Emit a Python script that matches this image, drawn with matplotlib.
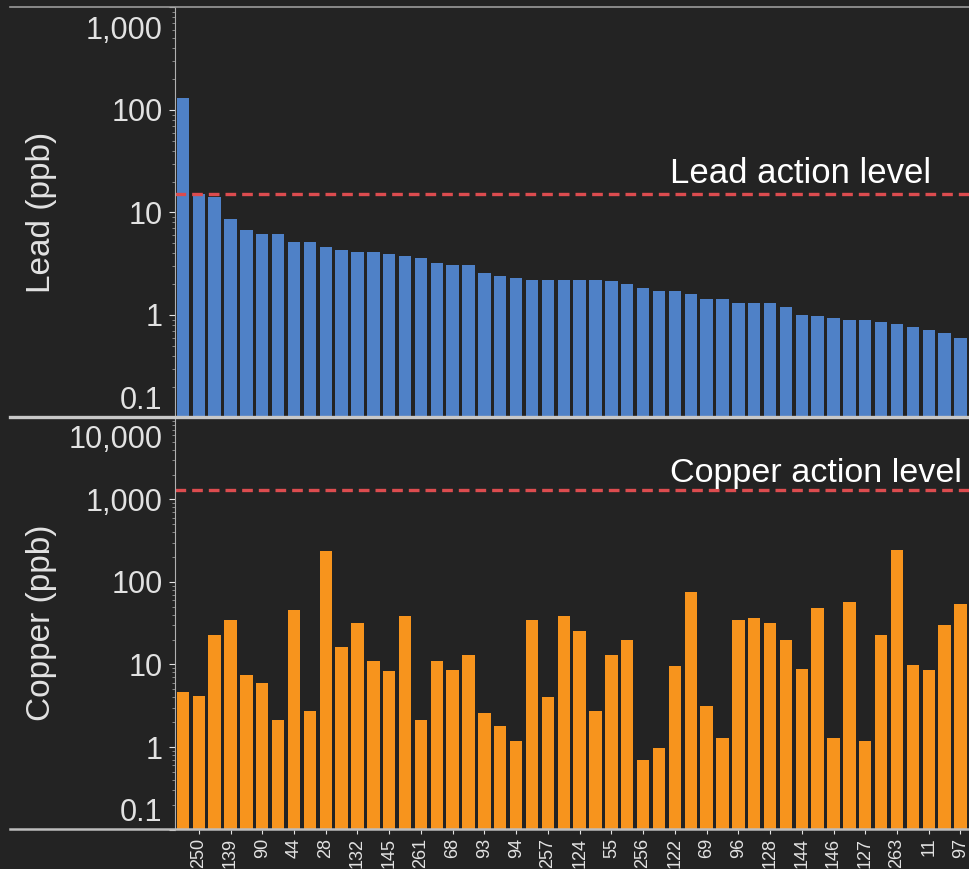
import numpy as np
import matplotlib.pyplot as plt
import matplotlib.transforms as mtransforms
from matplotlib.lines import Line2D
from matplotlib.ticker import FixedLocator, LogLocator, FuncFormatter, NullFormatter

plt.rcParams['font.family'] = ['Liberation Sans', 'DejaVu Sans']

# Datos (ppb)
plomo = [130, 15, 14, 8.7, 6.7, 6.2, 6.2, 5.2, 5.2, 4.6,
         4.3, 4.1, 4.1, 3.9, 3.8, 3.6, 3.2, 3.1, 3.1, 2.55,
         2.4, 2.3, 2.2, 2.2, 2.2, 2.2, 2.2, 2.13, 2.0, 1.82,
         1.7, 1.7, 1.6, 1.42, 1.42, 1.32, 1.32, 1.32, 1.2, 1.0,
         0.97, 0.94, 0.9, 0.9, 0.855, 0.81, 0.77, 0.72, 0.66, 0.59]
cobre = [4.6, 4.2, 22.6, 35, 7.5, 6.0, 2.1, 46, 2.7, 238,
         16.4, 32, 11, 8.3, 39, 2.1, 11, 8.5, 12.9, 2.56,
         1.8, 1.19, 35, 4.0, 39, 25.7, 2.7, 12.9, 19.8, 0.7,
         0.98, 9.7, 75, 3.1, 1.3, 35, 37, 31.8, 19.8, 8.7,
         48, 1.3, 57, 1.19, 23, 242, 9.9, 8.5, 29.9, 54]
etiquetas = ['250', '139', '90', '44', '28', '132', '145', '261', '68', '93',
             '94', '257', '124', '55', '256', '122', '69', '96', '128', '144',
             '146', '127', '263', '11', '97']
nivel_plomo = 15
nivel_cobre = 1300

fondo = '#232323'
gris = '#e2e2e2'

fig = plt.figure(figsize=(9.7, 8.69), dpi=100, facecolor=fondo)
ax1 = fig.add_axes([0.1804, 0.5196, 0.8196, 0.4718], facecolor=fondo)
ax2 = fig.add_axes([0.1804, 0.04545, 0.8196, 0.4747], facecolor=fondo)

x = np.arange(len(plomo))
ax1.bar(x, plomo, width=0.78, color='#4f81c7')
ax2.bar(x, cobre, width=0.78, color='#f7941d')

formato = FuncFormatter(lambda v, p: '{:,g}'.format(v))

for ax, lims, ticks, nivel, texto, ylab, ytxt, tam in [
        (ax1, (0.1, 1000), [0.1, 1, 10, 100, 1000], nivel_plomo, 'Lead action level', 'Lead (ppb)', 19.4, 25),
        (ax2, (0.1, 10000), [0.1, 1, 10, 100, 1000, 10000], nivel_cobre, 'Copper action level', 'Copper (ppb)', 1630, 24.6)]:
    ax.set_yscale('log')
    ax.set_ylim(*lims)
    ax.set_xlim(-0.5, 49.6)
    ax.yaxis.set_major_locator(FixedLocator(ticks))
    ax.yaxis.set_major_formatter(formato)
    ax.yaxis.set_minor_locator(LogLocator(base=10, subs=np.arange(2, 10)))
    ax.yaxis.set_minor_formatter(NullFormatter())
    ax.tick_params(axis='y', which='major', colors=gris, labelsize=22, length=4, pad=5)
    ax.tick_params(axis='y', which='minor', colors='#9a9a9a', length=2)
    for s in ['top', 'right', 'bottom']:
        ax.spines[s].set_visible(False)
    ax.spines['left'].set_color('#b0b0b0')
    ax.axhline(nivel, color='#dc4c4f', lw=2.4, dashes=(3.2, 1.8))
    ax.text(0.6226, ytxt, texto, transform=ax.get_yaxis_transform(), color='white',
            fontsize=tam, ha='left', va='baseline')
    ax.set_ylabel(ylab, color=gris, fontsize=24)
    ax.yaxis.set_label_coords(-0.149, 0.5)
    # etiquetas de los extremos desplazadas hacia dentro
    etq = ax.get_yticklabels()
    abajo = mtransforms.ScaledTranslation(0, 0.2, fig.dpi_scale_trans)
    arriba = mtransforms.ScaledTranslation(0, -0.2, fig.dpi_scale_trans)
    etq[0].set_transform(etq[0].get_transform() + abajo)
    etq[-1].set_transform(etq[-1].get_transform() + arriba)

ax1.tick_params(axis='x', bottom=False, labelbottom=False)
ax2.set_xticks(np.arange(1, 50, 2))
ax2.set_xticklabels(etiquetas, rotation=90)
ax2.tick_params(axis='x', colors=gris, labelsize=13, length=3, pad=3)

# líneas horizontales de la diapositiva
fig.add_artist(Line2D([10 / 970, 1], [1 - 7 / 869] * 2, color='#9a9a9a', lw=1.2))
fig.add_artist(Line2D([10 / 970, 1], [1 - 417 / 869] * 2, color='#c8c8c8', lw=2.4))
fig.add_artist(Line2D([10 / 970, 1], [1 - 829 / 869] * 2, color='#bdbdbd', lw=1.8))

plt.savefig('out.png', dpi=100, facecolor=fondo)
